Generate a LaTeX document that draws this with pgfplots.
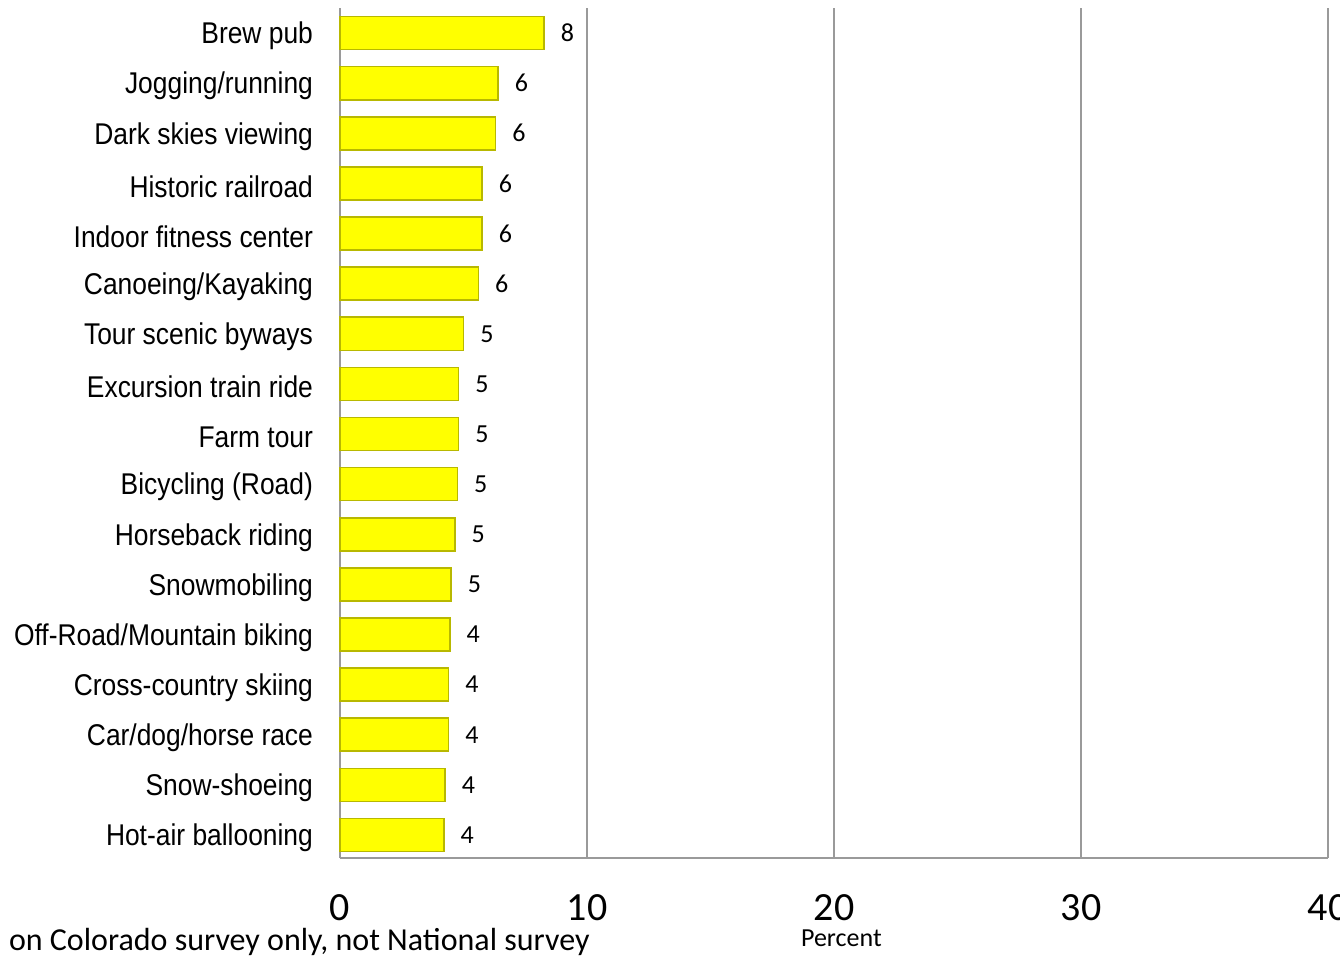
\documentclass[border=0pt]{standalone}
\usepackage{pgfplots}
\pgfplotsset{compat=1.18}
\usetikzlibrary{calc}
\usepackage{fontspec}
\setmainfont{Carlito}
\newfontfamily\narrowfont[FakeStretch=0.88]{Liberation Sans}
\definecolor{gridgray}{HTML}{9A9A9A}
\definecolor{baryellow}{HTML}{FFFF00}
\definecolor{bardark}{HTML}{B8B800}
\begin{document}
\begin{tikzpicture}
\begin{axis}[
  name=ax,
  scale only axis,
  width=494pt, height=425pt,
  xbar, bar width=0.66,
  xmin=0, xmax=40,
  ymin=-0.46, ymax=16.5,
  xtick={0,10,20,30,40},
  ytick={0,...,16},
  yticklabels={Hot-air ballooning,Snow-shoeing,Car/dog/horse race,Cross-country skiing,Off-Road/Mountain biking,Snowmobiling,Horseback riding,Bicycling (Road),Farm tour,Excursion train ride,Tour scenic byways,Canoeing/Kayaking,Indoor fitness center,Historic railroad,Dark skies viewing,Jogging/running,Brew pub},
  axis x line*=bottom,
  axis y line*=left,
  axis line style={gridgray, line width=0.8pt},
  xmajorgrids, grid style={gridgray, line width=0.8pt},
  major tick length=0pt,
  tick style={draw=none},
  /pgf/number format/assume math mode=true,
  xticklabel style={font=\fontsize{20}{24}\selectfont, anchor=north, yshift=-14.5pt},
  yticklabel style={font=\narrowfont\fontsize{15}{18}\selectfont, anchor=east, xshift=-10pt, yshift=-1.5pt},
  clip=false,
  point meta=explicit symbolic,
  nodes near coords,
  nodes near coords style={font=\fontsize{13}{15}\selectfont, anchor=west, inner sep=0pt, xshift=8pt, black},
]
\addplot[draw=bardark, line width=0.8pt, fill=baryellow]
  table[x=v, y=i, meta=l] {
i v l
0 4.2 4
1 4.25 4
2 4.4 4
3 4.4 4
4 4.45 4
5 4.5 5
6 4.65 5
7 4.75 5
8 4.8 5
9 4.8 5
10 5.0 5
11 5.6 6
12 5.75 6
13 5.75 6
14 6.3 6
15 6.4 6
16 8.26 8
};
\node[font=\fontsize{13}{15}\selectfont, anchor=center] at (axis cs:20.3,-2.06) {Percent};
\node[font=\fontsize{16}{19}\selectfont, anchor=base east, inner sep=0pt] at (axis cs:10.12,-2.3) {Asked on Colorado survey only, not National survey};
\end{axis}
\pgfresetboundingbox
\path[use as bounding box] ($(ax.south west)+(-170pt,-49pt)$) rectangle ($(ax.north east)+(6pt,4pt)$);
\end{tikzpicture}
\end{document}
